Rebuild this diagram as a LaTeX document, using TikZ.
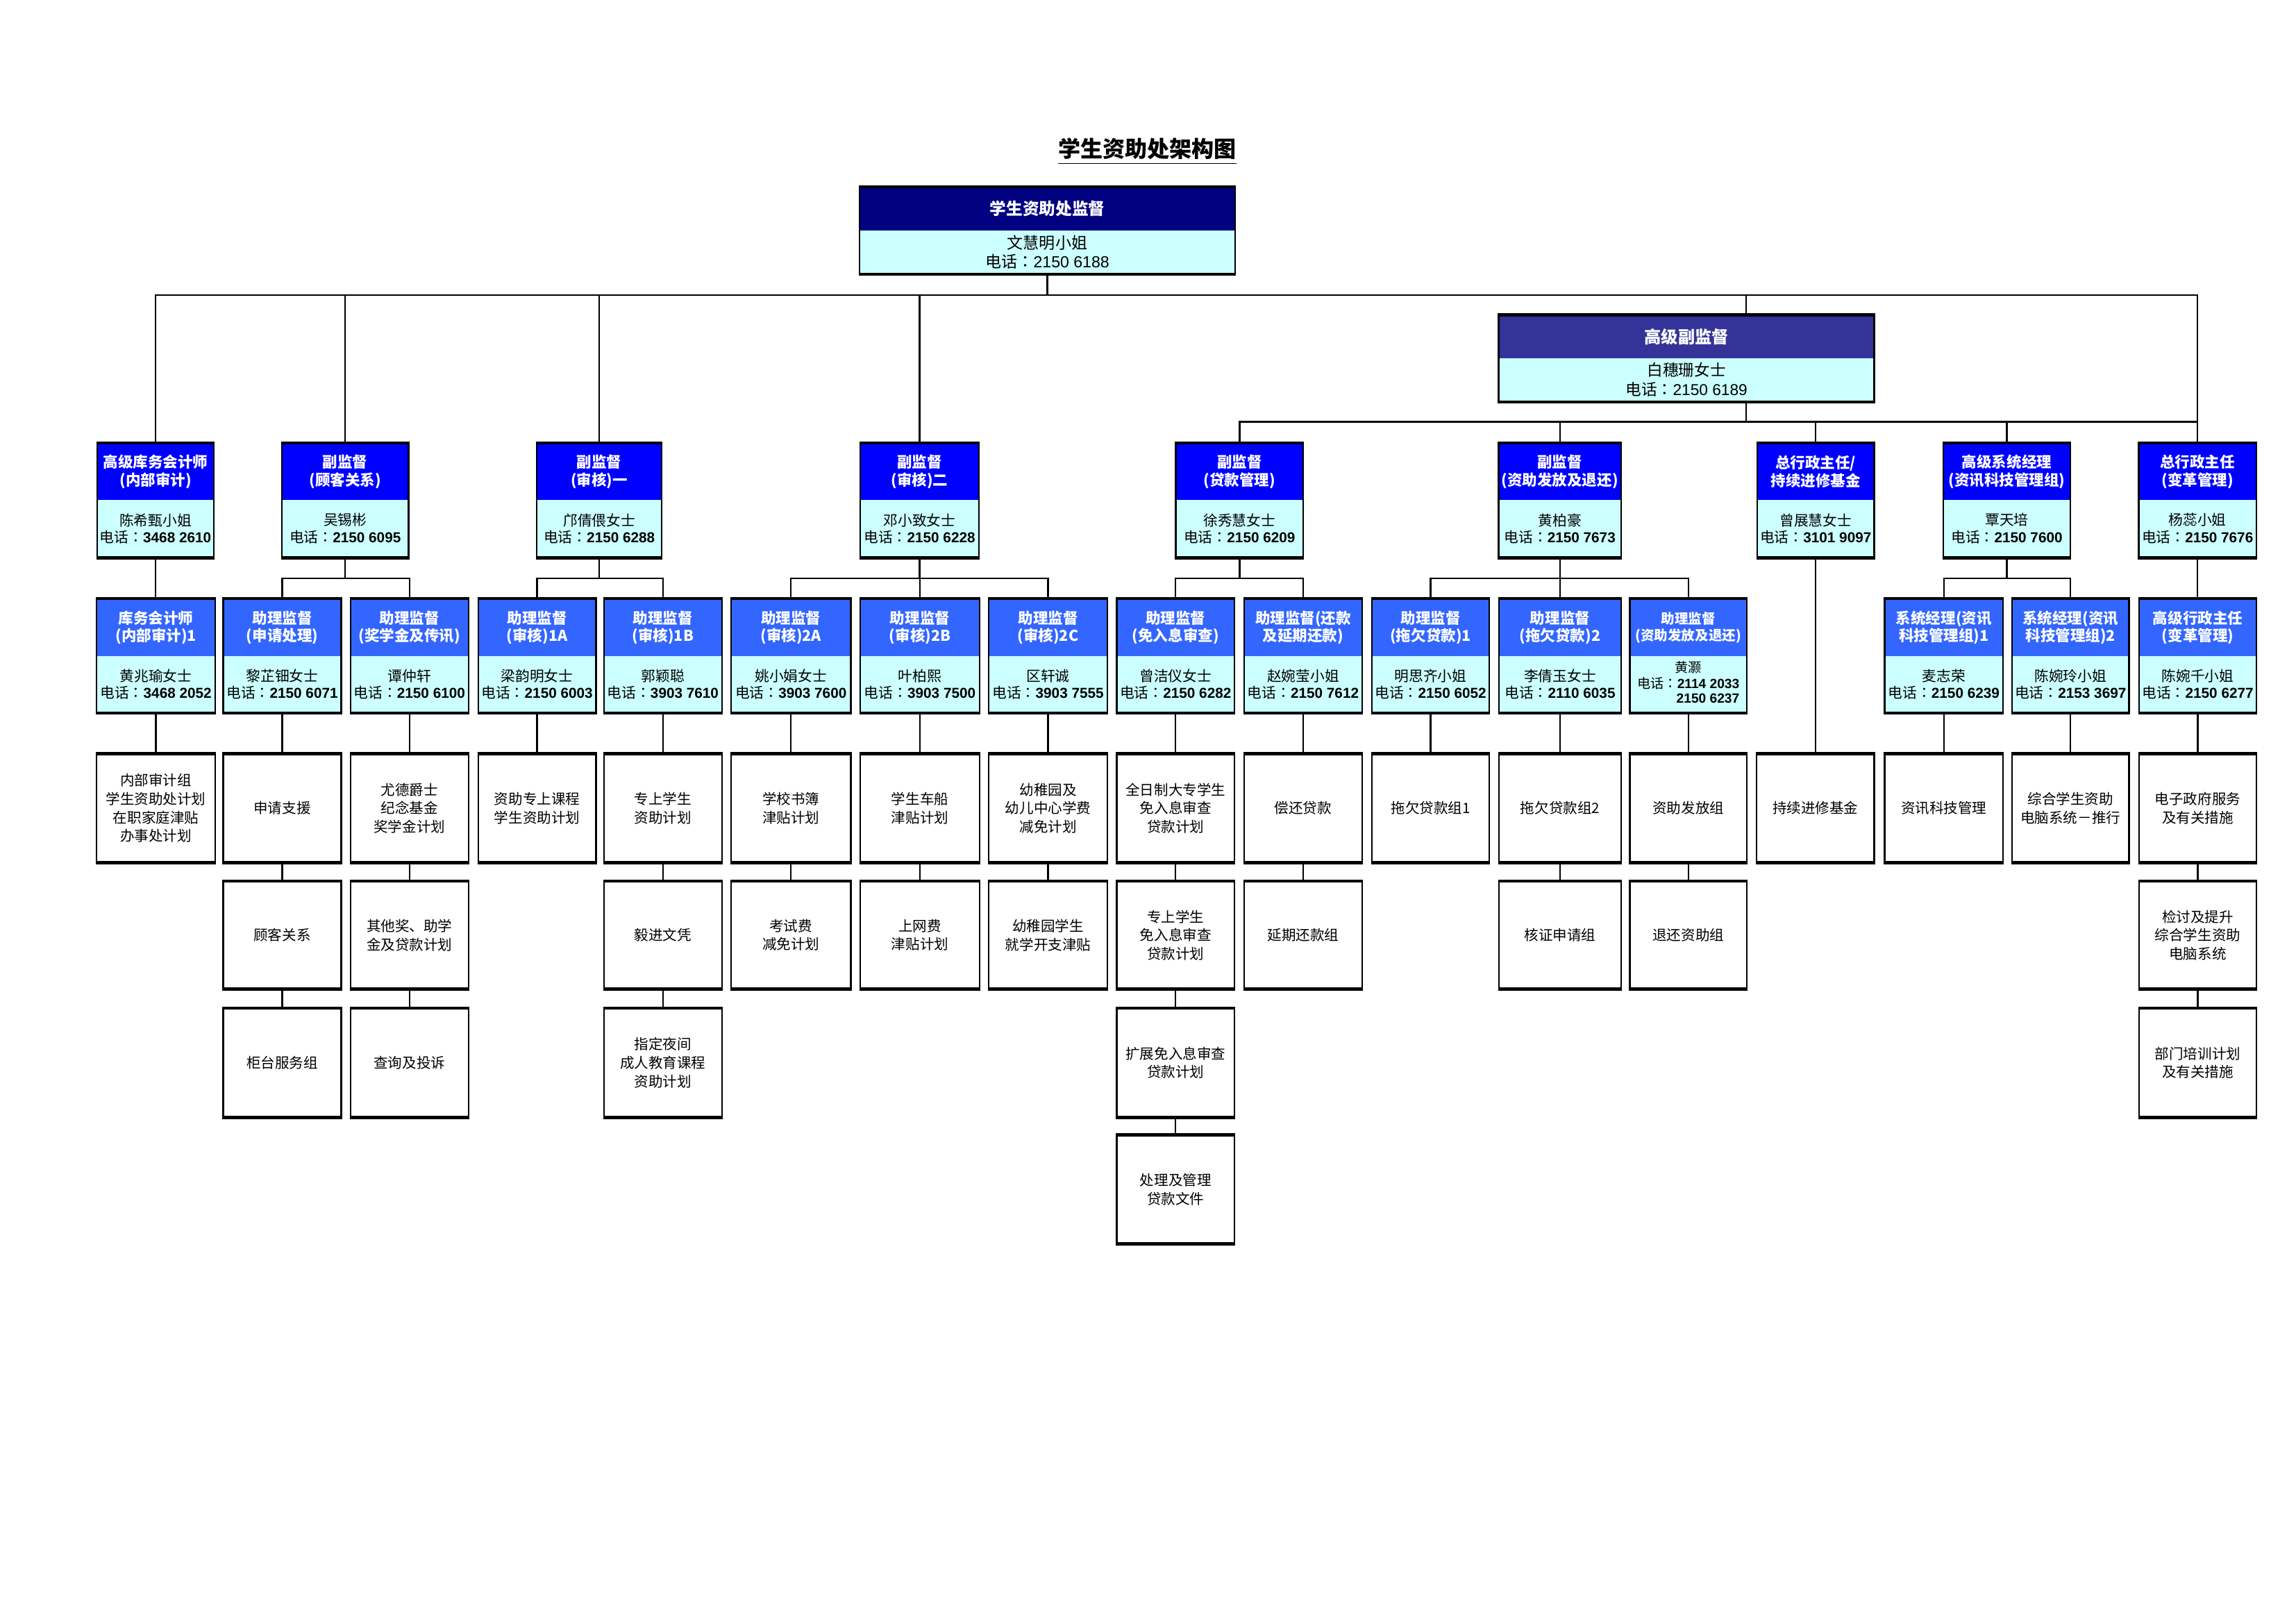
\documentclass[tikz,border=0pt]{standalone}
\usepackage{fontspec}
\setmainfont{Noto Sans CJK SC}
\newfontfamily\lat{Liberation Sans}
\newfontfamily\tcf{Noto Sans CJK TC}
\usetikzlibrary{fit}
\definecolor{navyh}{HTML}{000080}
\definecolor{slateh}{HTML}{333399}
\definecolor{blueh}{HTML}{0000FF}
\definecolor{lblueh}{HTML}{3366FF}
\definecolor{bodyc}{HTML}{CCFFFF}
\newcommand{\tel}[1]{电话{\tcf ：}{\lat\bfseries #1}}
\newcommand{\telr}[1]{电话{\tcf ：}{\lat #1}}
\tikzset{
  conn/.style={line width=0.6pt, draw=black},
  frame/.style={draw=black, line width=0.6pt, inner sep=0pt},
  edgeline/.style={line width=1.1pt, draw=black},
  top fill/.style={fill=navyh},
  top head/.style={text=white, font=\bfseries\fontsize{6.05}{7}\selectfont, align=center, inner sep=0pt},
  top body/.style={text=black, font=\fontsize{5.9}{7}\selectfont, align=center, inner sep=0pt},
  sen fill/.style={fill=slateh},
  sen head/.style={text=white, font=\bfseries\fontsize{6.2}{7}\selectfont, align=center, inner sep=0pt},
  sen body/.style={text=black, font=\fontsize{5.8}{7.1}\selectfont, align=center, inner sep=0pt},
  r2 fill/.style={fill=blueh},
  r2 head/.style={text=white, font=\bfseries\fontsize{5.5}{6.7}\selectfont, align=center, inner sep=0pt},
  r2 body/.style={text=black, font=\fontsize{5.3}{6.3}\selectfont, align=center, inner sep=0pt},
  r3 fill/.style={fill=lblueh},
  r3 head/.style={text=white, font=\bfseries\fontsize{5.5}{6.5}\selectfont, align=center, inner sep=0pt},
  r3 body/.style={text=black, font=\fontsize{5.3}{6.3}\selectfont, align=center, inner sep=0pt},
  r3s fill/.style={fill=lblueh},
  r3s head/.style={text=white, font=\bfseries\fontsize{5}{6}\selectfont, align=center, inner sep=0pt},
  r3s body/.style={text=black, font=\fontsize{4.9}{5.4}\selectfont, align=center, inner sep=0pt},
  ptext/.style={text=black, font=\fontsize{5.25}{6.8}\selectfont, align=center, inner sep=0pt},
  titletext/.style={text=black, font=\bfseries\fontsize{8.2}{9}\selectfont, inner sep=0pt}
}
% two-part box: name, x1, x2, ytop, ysplit, ybottom, kind, header, body
\newcommand{\tbx}[9]{%
  \fill[#7 fill] (#2,#4) rectangle (#3,#5);
  \fill[bodyc] (#2,#5) rectangle (#3,#6);
  \node[frame, fit={(#2,#4) (#3,#6)}] (#1) {};
  \draw[edgeline] (#1.north west) -- (#1.north east);
  \draw[edgeline] (#1.south west) -- (#1.south east);
  \node[#7 head] (#1h) at ({(#2+#3)/2},{(#4+#5)/2}) {#8};
  \node[#7 body] (#1b) at ({(#2+#3)/2},{(#5+#6)/2}) {#9};
}
% plain box: name, x1, x2, ytop, ybottom, text
\newcommand{\pbx}[6]{%
  \node[frame, fit={(#2,#4) (#3,#5)}] (#1) {};
  \draw[edgeline] (#1.north west) -- (#1.north east);
  \draw[edgeline] (#1.south west) -- (#1.south east);
  \node[ptext] (#1t) at (#1.center) {#6};
}
\begin{document}
\begin{tikzpicture}[x=0.18941mm,y=-0.18941mm]
\fill[white] (0,0) rectangle (1568,1109);
\useasboundingbox (0,0) rectangle (1568,1109);

% title
\node[titletext] (ttl) at (783.5,103.5) {\underline{学生资助处架构图}};

% level 0 / senior
\tbx{top}{587}{843.5}{128}{157.3}{186.8}{top}{学生资助处监督}{文慧明小姐\\\telr{2150 6188}}
\tbx{sen}{1023.5}{1280}{215.5}{244.7}{274}{sen}{高级副监督}{白穗珊女士\\\telr{2150 6189}}

% row 2
\tbx{n1}{66.5}{146}{303}{341.5}{380.5}{r2}{高级库务会计师\\(内部审计)}{陈希甄小姐\\\tel{3468 2610}}
\tbx{n2}{192.5}{279}{303}{341.5}{380.5}{r2}{副监督\\(顾客关系)}{吴锡彬\\\tel{2150 6095}}
\tbx{n3}{366.5}{452}{303}{341.5}{380.5}{r2}{副监督\\(审核)一}{邝倩偎女士\\\tel{2150 6288}}
\tbx{n4}{587.5}{668.5}{303}{341.5}{380.5}{r2}{副监督\\(审核)二}{邓小致女士\\\tel{2150 6228}}
\tbx{n5}{803}{890}{303}{341.5}{380.5}{r2}{副监督\\(贷款管理)}{徐秀慧女士\\\tel{2150 6209}}
\tbx{n6}{1023.5}{1107}{303}{341.5}{380.5}{r2}{副监督\\(资助发放及退还)}{黄柏豪\\\tel{2150 7673}}
\tbx{n7}{1200}{1280}{303}{341.5}{380.5}{r2}{总行政主任/\\持续进修基金}{曾展慧女士\\\tel{3101 9097}}
\tbx{n8}{1327}{1414}{303}{341.5}{380.5}{r2}{高级系统经理\\(资讯科技管理组)}{覃天培\\\tel{2150 7600}}
\tbx{n9}{1460.5}{1541}{303}{341.5}{380.5}{r2}{总行政主任\\(变革管理)}{杨蕊小姐\\\tel{2150 7676}}

% row 3
\tbx{a1}{66}{147}{409.3}{448}{486.5}{r3}{库务会计师\\(内部审计)1}{黄兆瑜女士\\\tel{3468 2052}}
\tbx{a2}{152.5}{233}{409.3}{448}{486.5}{r3}{助理监督\\(申请处理)}{黎芷钿女士\\\tel{2150 6071}}
\tbx{a3}{239.3}{320}{409.3}{448}{486.5}{r3}{助理监督\\(奖学金及传讯)}{谭仲轩\\\tel{2150 6100}}
\tbx{a4}{326.6}{407}{409.3}{448}{486.5}{r3}{助理监督\\(审核)1A}{梁韵明女士\\\tel{2150 6003}}
\tbx{a5}{412.5}{493}{409.3}{448}{486.5}{r3}{助理监督\\(审核)1B}{郭颖聪\\\tel{3903 7610}}
\tbx{a6}{499.3}{581}{409.3}{448}{486.5}{r3}{助理监督\\(审核)2A}{姚小娟女士\\\tel{3903 7600}}
\tbx{a7}{587.5}{669}{409.3}{448}{486.5}{r3}{助理监督\\(审核)2B}{叶柏熙\\\tel{3903 7500}}
\tbx{a8}{675.2}{756.3}{409.3}{448}{486.5}{r3}{助理监督\\(审核)2C}{区轩诚\\\tel{3903 7555}}
\tbx{a9}{762.7}{843}{409.3}{448}{486.5}{r3}{助理监督\\(免入息审查)}{曾洁仪女士\\\tel{2150 6282}}
\tbx{a10}{849.6}{930.3}{409.3}{448}{486.5}{r3}{助理监督(还款\\及延期还款)}{赵婉莹小姐\\\tel{2150 7612}}
\tbx{a11}{937}{1017}{409.3}{448}{486.5}{r3}{助理监督\\(拖欠贷款)1}{明思齐小姐\\\tel{2150 6052}}
\tbx{a12}{1023.8}{1107}{409.3}{448}{486.5}{r3}{助理监督\\(拖欠贷款)2}{李倩玉女士\\\tel{2110 6035}}
\tbx{a13}{1113}{1193}{409.3}{448}{486.5}{r3s}{助理监督\\(资助发放及退还)}{\begin{tabular}{@{}r@{}}\multicolumn{1}{@{}c@{}}{黄灏}\\ \tel{2114 2033}\\ {\lat\bfseries 2150 6237}\end{tabular}}
\tbx{a14}{1287}{1368}{409.3}{448}{486.5}{r3}{系统经理(资讯\\科技管理组)1}{麦志荣\\\tel{2150 6239}}
\tbx{a15}{1374}{1454}{409.3}{448}{486.5}{r3}{系统经理(资讯\\科技管理组)2}{陈婉玲小姐\\\tel{2153 3697}}
\tbx{a16}{1460.8}{1541}{409.3}{448}{486.5}{r3}{高级行政主任\\(变革管理)}{陈婉千小姐\\\tel{2150 6277}}

% row 4
\pbx{b1}{66}{147}{515.3}{588.5}{内部审计组\\学生资助处计划\\在职家庭津贴\\办事处计划}
\pbx{b2}{152.5}{233}{515.3}{588.5}{申请支援}
\pbx{b3}{239.3}{320}{515.3}{588.5}{尤德爵士\\纪念基金\\奖学金计划}
\pbx{b4}{326.6}{407}{515.3}{588.5}{资助专上课程\\学生资助计划}
\pbx{b5}{412.5}{493}{515.3}{588.5}{专上学生\\资助计划}
\pbx{b6}{499.3}{581}{515.3}{588.5}{学校书簿\\津贴计划}
\pbx{b7}{587.5}{669}{515.3}{588.5}{学生车船\\津贴计划}
\pbx{b8}{675.2}{756.3}{515.3}{588.5}{幼稚园及\\幼儿中心学费\\减免计划}
\pbx{b9}{762.7}{843}{515.3}{588.5}{全日制大专学生\\免入息审查\\贷款计划}
\pbx{b10}{849.6}{930.3}{515.3}{588.5}{偿还贷款}
\pbx{b11}{937}{1017}{515.3}{588.5}{拖欠贷款组1}
\pbx{b12}{1023.8}{1107}{515.3}{588.5}{拖欠贷款组2}
\pbx{b13}{1113}{1193}{515.3}{588.5}{资助发放组}
\pbx{bX}{1199.6}{1280}{515.3}{588.5}{持续进修基金}
\pbx{b14}{1287}{1368}{515.3}{588.5}{资讯科技管理}
\pbx{b15}{1374}{1454}{515.3}{588.5}{综合学生资助\\电脑系统－推行}
\pbx{b16}{1460.8}{1541}{515.3}{588.5}{电子政府服务\\及有关措施}

% row 5
\pbx{c2}{152.5}{233}{602.2}{675}{顾客关系}
\pbx{c3}{239.3}{320}{602.2}{675}{其他奖、助学\\金及贷款计划}
\pbx{c5}{412.5}{493}{602.2}{675}{毅进文凭}
\pbx{c6}{499.3}{581}{602.2}{675}{考试费\\减免计划}
\pbx{c7}{587.5}{669}{602.2}{675}{上网费\\津贴计划}
\pbx{c8}{675.2}{756.3}{602.2}{675}{幼稚园学生\\就学开支津贴}
\pbx{c9}{762.7}{843}{602.2}{675}{专上学生\\免入息审查\\贷款计划}
\pbx{c10}{849.6}{930.3}{602.2}{675}{延期还款组}
\pbx{c12}{1023.8}{1107}{602.2}{675}{核证申请组}
\pbx{c13}{1113}{1193}{602.2}{675}{退还资助组}
\pbx{c16}{1460.8}{1541}{602.2}{675}{检讨及提升\\综合学生资助\\电脑系统}

% row 6
\pbx{d2}{152.5}{233}{689}{762.5}{柜台服务组}
\pbx{d3}{239.3}{320}{689}{762.5}{查询及投诉}
\pbx{d5}{412.5}{493}{689}{762.5}{指定夜间\\成人教育课程\\资助计划}
\pbx{d9}{762.7}{843}{689}{762.5}{扩展免入息审查\\贷款计划}
\pbx{d16}{1460.8}{1541}{689}{762.5}{部门培训计划\\及有关措施}

% row 7
\pbx{e9}{762.7}{843}{775.6}{849}{处理及管理\\贷款文件}

% connector levels
\coordinate (bus1) at (0,201.5);
\coordinate (bus2) at (0,288);
\coordinate (bus3) at (0,395);
\coordinate (sx) at (1192.5,0);

% level 1
\draw[conn] (top.south) -- (top.south |- bus1);
\draw[conn] (n1.north) -- (n1.north |- bus1) -- (n9.north |- bus1) -- (n9.north);
\foreach \n in {n2,n3,n4} \draw[conn] (\n.north) -- (\n.north |- bus1);
\draw[conn] (sen.north -| sx) -- (sx |- bus1);
% level 2
\draw[conn] (sen.south -| sx) -- (sx |- bus2);
\draw[conn] (n5.north) -- (n5.north |- bus2) -- (n9.north |- bus2);
\foreach \n in {n6,n7,n8} \draw[conn] (\n.north) -- (\n.north |- bus2);

% row 2 to row 3
\draw[conn] (n1.south) -- (n1.south |- a1.north);
\draw[conn] (n2.south) -- (n2.south |- bus3);
\draw[conn] (a2.north) -- (a2.north |- bus3) -- (a3.north |- bus3) -- (a3.north);
\draw[conn] (n3.south) -- (n3.south |- bus3);
\draw[conn] (a4.north) -- (a4.north |- bus3) -- (a5.north |- bus3) -- (a5.north);
\draw[conn] (n4.south) -- (n4.south |- bus3);
\draw[conn] (a6.north) -- (a6.north |- bus3) -- (a8.north |- bus3) -- (a8.north);
\draw[conn] (a7.north) -- (a7.north |- bus3);
\draw[conn] (n5.south) -- (n5.south |- bus3);
\draw[conn] (a9.north) -- (a9.north |- bus3) -- (a10.north |- bus3) -- (a10.north);
\draw[conn] (n6.south) -- (n6.south |- bus3);
\draw[conn] (a11.north) -- (a11.north |- bus3) -- (a13.north |- bus3) -- (a13.north);
\draw[conn] (a12.north) -- (a12.north |- bus3);
\draw[conn] (n7.south) -- (n7.south |- bX.north);
\draw[conn] (n8.south) -- (n8.south |- bus3);
\draw[conn] (a14.north) -- (a14.north |- bus3) -- (a15.north |- bus3) -- (a15.north);
\draw[conn] (n9.south) -- (n9.south |- a16.north);

% lower rows
\foreach \i in {1,...,16} \draw[conn] (a\i.south) -- (a\i.south |- b\i.north);
\foreach \i in {2,3,5,6,7,8,9,10,12,13,16} \draw[conn] (b\i.south) -- (b\i.south |- c\i.north);
\foreach \i in {2,3,5,9,16} \draw[conn] (c\i.south) -- (c\i.south |- d\i.north);
\draw[conn] (d9.south) -- (d9.south |- e9.north);
\end{tikzpicture}
\end{document}
